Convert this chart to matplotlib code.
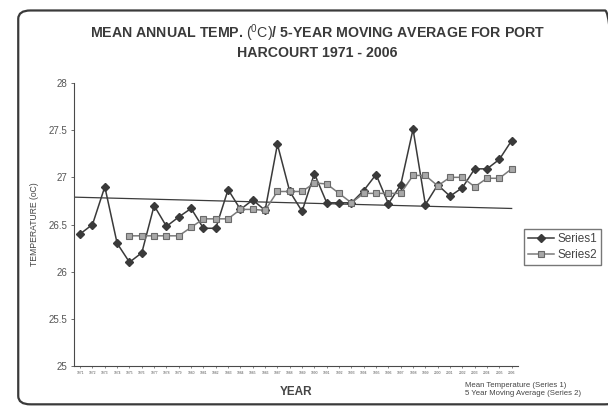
import numpy as np
import matplotlib
matplotlib.use("Agg")
import matplotlib.pyplot as plt
from matplotlib.patches import FancyBboxPatch

plt.rcParams['font.family'] = ['Liberation Sans', 'DejaVu Sans']
plt.rcParams['mathtext.fontset'] = 'custom'
plt.rcParams['mathtext.rm'] = 'Liberation Sans'

# data
years = list(range(1971, 2007))
series1 = [26.4, 26.5, 26.9, 26.3, 26.1, 26.2, 26.7, 26.48, 26.58, 26.67,
           26.46, 26.46, 26.87, 26.66, 26.76, 26.65, 27.35, 26.85, 26.64, 27.04,
           26.73, 26.73, 26.73, 26.86, 27.03, 26.72, 26.92, 27.51, 26.71, 26.92,
           26.8, 26.89, 27.09, 27.09, 27.19, 27.39]
ma_years = list(range(1975, 2007))
series2 = [26.38, 26.38, 26.38, 26.38, 26.38, 26.47, 26.56, 26.56, 26.56,
           26.66, 26.66, 26.65, 26.85, 26.85, 26.85, 26.94, 26.93, 26.83, 26.73,
           26.83, 26.83, 26.83, 26.83, 27.02, 27.02, 26.91, 27.0, 27.0, 26.9,
           26.99, 26.99, 27.09]
trend_years = [1970.5, 2006]
trend_vals = [26.79, 26.67]
yticks = [25, 25.5, 26, 26.5, 27, 27.5, 28]
ytick_labels = ['25', '25.5', '26', '26.5', '27', '27.5', '28']

fig = plt.figure(figsize=(6.08, 4.19), dpi=100)
fig.patch.set_facecolor('white')

# scanned page frame
frame = FancyBboxPatch((0.03, 0.035), 0.985, 0.94,
                       boxstyle="round,pad=0,rounding_size=0.02",
                       transform=fig.transFigure, fill=False,
                       edgecolor='#3a3a3a', linewidth=1.6)
fig.patches.append(frame)

ax = fig.add_axes([0.1217, 0.1265, 0.730, 0.6754])
ax.plot(trend_years, trend_vals, color='#3c3c3c', lw=0.9)
ax.plot(years, series1, color='#3a3a3a', lw=1.1, marker='D', ms=4,
        mfc='#3a3a3a', mec='#3a3a3a', label='Series1')
ax.plot(ma_years, series2, color='#7a7a7a', lw=1.1, marker='s', ms=5,
        mfc='#a8a8a8', mec='#6a6a6a', mew=0.8, label='Series2')

ax.set_xlim(1970.5, 2006.5)
ax.set_ylim(25, 28)
ax.set_yticks(yticks)
ax.set_yticklabels(ytick_labels, fontsize=7, color='#555555')
ax.set_xticks(years)
ax.set_xticklabels([str(y) for y in years], fontsize=2.4, color='#555555')
ax.tick_params(axis='y', length=2.5, width=0.6, pad=2, color='#555555')
ax.tick_params(axis='x', length=1.5, width=0.5, pad=2, color='#555555')
for s in ['top', 'right']:
    ax.spines[s].set_visible(False)
for s in ['left', 'bottom']:
    ax.spines[s].set_color('#4a4a4a')
    ax.spines[s].set_linewidth(0.8)

ax.set_ylabel('TEMPERATURE (oC)', fontsize=6.2, color='#444444', labelpad=7)
ax.set_xlabel('YEAR', fontsize=8.5, fontweight='bold', color='#444444', labelpad=8)

leg = ax.legend(loc='center left', bbox_to_anchor=(1.005, 0.42), fontsize=8.5,
                frameon=True, fancybox=False, edgecolor='#555555',
                handlelength=2.2, handletextpad=0.3, borderpad=0.35,
                labelspacing=0.35, borderaxespad=0.3)
for t in leg.get_texts():
    t.set_color('#444444')

fig.text(0.522, 0.92,
         r'MEAN ANNUAL TEMP. $(^{0}\mathrm{C})$/ 5-YEAR MOVING AVERAGE FOR PORT',
         ha='center', va='center', fontsize=10.2, fontweight='bold', color='#3a3a3a')
fig.text(0.522, 0.874, 'HARCOURT 1971 - 2006', ha='center', va='center',
         fontsize=10.2, fontweight='bold', color='#3a3a3a')

fig.text(0.765, 0.052, 'Mean Temperature (Series 1)\n5 Year Moving Average (Series 2)',
         ha='left', va='bottom', fontsize=5.6, color='#444444', linespacing=1.3)

fig.savefig('out.png', dpi=100, facecolor='white')
